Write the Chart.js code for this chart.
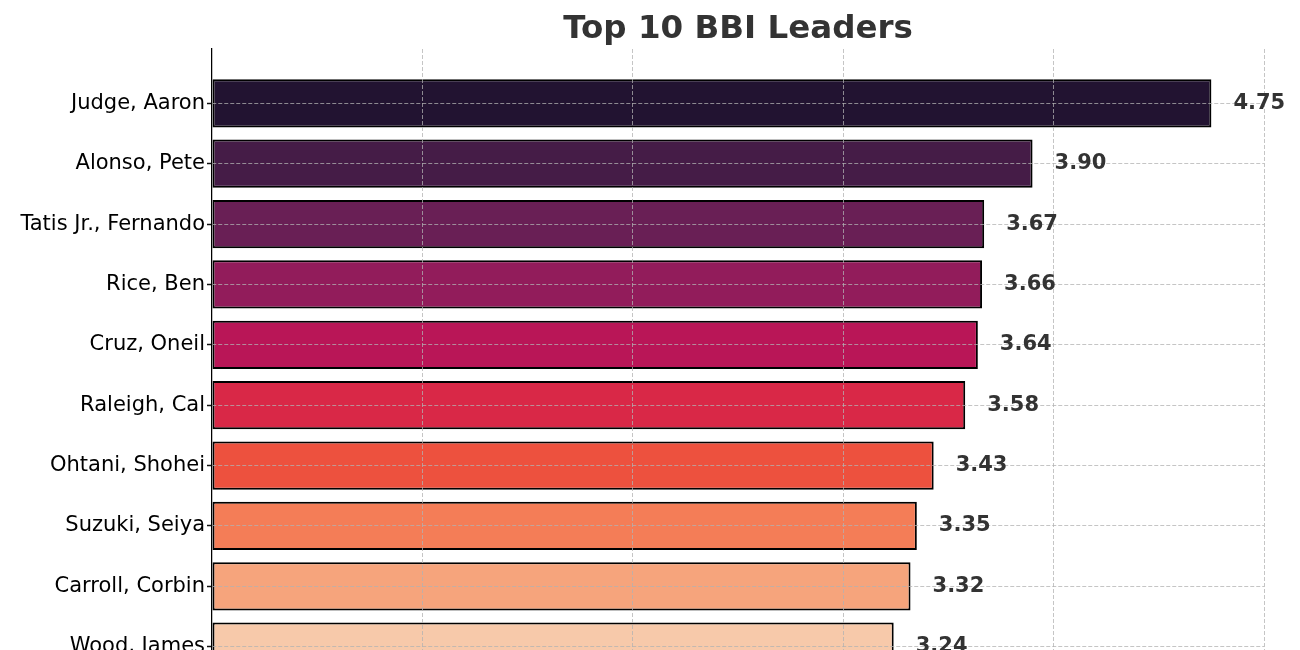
<!DOCTYPE html>
<html>
<head>
<meta charset="utf-8">
<script src="https://cdn.jsdelivr.net/npm/chart.js@4/dist/chart.umd.min.js"></script>
<style>
html, body { margin: 0; padding: 0; background: #ffffff; overflow: hidden; }
canvas { display: block; }
</style>
</head>
<body>
<canvas id="c" width="1300" height="741"></canvas>
<script>
// ---- data ----
const players = [
  'Judge, Aaron', 'Alonso, Pete', 'Tatis Jr., Fernando', 'Rice, Ben', 'Cruz, Oneil',
  'Raleigh, Cal', 'Ohtani, Shohei', 'Suzuki, Seiya', 'Carroll, Corbin', 'Wood, James'
];
const bbi = [4.75, 3.90, 3.67, 3.66, 3.64, 3.58, 3.43, 3.35, 3.32, 3.24];
const xTickValues = [0, 1, 2, 3, 4, 5];
const chartTitle = 'Top 10 BBI Leaders';

// ---- style ----
const palette = ['#221331', '#451c47', '#691f55', '#921c5b', '#b91657',
                 '#d92847', '#ed513e', '#f47d57', '#f6a47c', '#f7c9aa'];
const gridColor = 'rgba(178,178,178,0.75)';
const FONT = '"DejaVu Sans", "Liberation Sans", sans-serif';

Chart.defaults.font.family = FONT;

const valueLabels = {
  id: 'valueLabels',
  afterDraw(chart) {
    const ctx = chart.ctx;
    const meta = chart.getDatasetMeta(0);
    ctx.save();
    ctx.font = 'bold 21px ' + FONT;
    ctx.fillStyle = '#333333';
    ctx.textAlign = 'left';
    ctx.textBaseline = 'middle';
    meta.data.forEach((bar, i) => {
      ctx.fillText(bbi[i].toFixed(2), bar.x + 22, bar.y);
    });
    ctx.restore();
  }
};

new Chart(document.getElementById('c'), {
  type: 'bar',
  data: {
    datasets: [{
      data: bbi.map((v, i) => ({ x: v, y: i })),
      backgroundColor: palette,
      borderColor: '#000000',
      borderWidth: 2,
      borderSkipped: false,
      barPercentage: 0.8,
      categoryPercentage: 1.0
    }]
  },
  options: {
    indexAxis: 'y',
    responsive: false,
    animation: false,
    layout: { padding: { left: 0, right: 36, top: 0, bottom: 0 } },
    plugins: {
      legend: { display: false },
      tooltip: { enabled: false },
      title: {
        display: true,
        text: chartTitle,
        fullSize: false,
        color: '#333333',
        font: { size: 32.5, weight: 'bold', family: FONT, lineHeight: 1.2 },
        padding: { top: 10, bottom: 0 }
      }
    },
    scales: {
      x: {
        type: 'linear',
        position: 'bottom',
        min: 0,
        max: 5,
        offset: false,
        afterBuildTicks(s) { s.ticks = xTickValues.map(v => ({ value: v })); },
        ticks: { font: { size: 21 }, color: '#000000' },
        grid: {
          offset: false,
          color: (c) => (c.tick && c.tick.value === 0) ? 'rgba(0,0,0,0)' : gridColor,
          lineWidth: 1,
          z: 1,
          drawTicks: true,
          tickLength: 5,
          tickWidth: 1.5,
          tickColor: '#111111',
          tickBorderDash: []
        },
        border: { display: true, color: '#000000', width: 1.25, dash: [4, 2], z: 2 },
        afterFit(s) { s.height = 40; }
      },
      y: {
        type: 'linear',
        reverse: true,
        min: -0.9,
        max: 9.9,
        offset: false,
        afterBuildTicks(s) { s.ticks = players.map((_, i) => ({ value: i })); },
        ticks: {
          autoSkip: false,
          callback: (v) => players[v],
          font: { size: 21 },
          color: '#000000',
          padding: 2
        },
        grid: {
          offset: false,
          color: gridColor,
          lineWidth: 1,
          z: 1,
          drawTicks: true,
          tickLength: 5,
          tickWidth: 1.5,
          tickColor: '#111111',
          tickBorderDash: []
        },
        border: { display: true, color: '#000000', width: 1.25, dash: [4, 2], z: 2 },
        afterFit(s) { s.width = 212; }
      }
    }
  },
  plugins: [valueLabels]
});
</script>
</body>
</html>
